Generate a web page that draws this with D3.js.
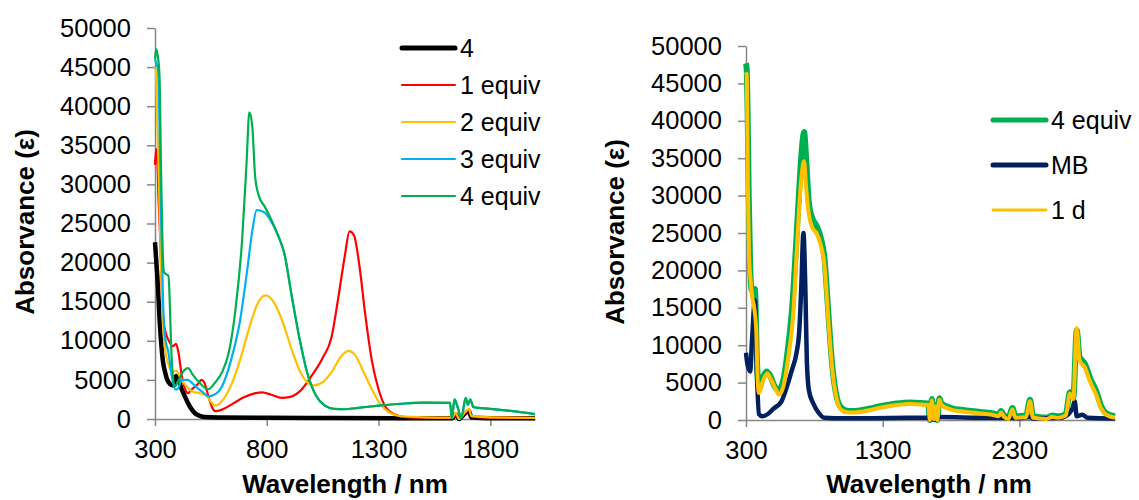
<!DOCTYPE html>
<html>
<head>
<meta charset="utf-8">
<script src="https://cdn.jsdelivr.net/npm/d3@7"></script>
<style>
  body { margin: 0; background: #fff; }
  svg { font-family: "Liberation Sans", Arial, sans-serif; }
  .axis path, .axis line { stroke: #868686; stroke-width: 1.5px; }
  .axis text { font-size: 25.5px; fill: #000; }
  .title { font-size: 26px; font-weight: bold; }
  .legend text { font-size: 25px; }
</style>
</head>
<body>
<svg id="chart" width="1139" height="500"></svg>
<script>
// left panel: titration spectra
var leftXTicks = [300, 800, 1300, 1800];
var rightXTicks = [300, 1300, 2300];
var yTicks = d3.range(0, 50001, 5000);

var s4 = [[300,22600],[305,20500],[313,17000],[320,13000],[327,10000],[335,7500],[345,6000],[355,5000],[367,4500],[381,4300],[394,5500],[405,5000],[417,4000],[432,3000],[448,2000],[465,1200],[480,700],[500,400],[525,250],[600,200],[800,150],[1100,130],[1400,110],[1630,100],[1645,600],[1660,0],[1690,800],[1705,1000],[1715,200],[1800,100],[2000,80]];
var s1eq = [[300,32500],[305,34500],[310,33500],[316,28000],[322,24000],[330,17000],[338,12500],[350,10800],[362,10000],[380,9300],[394,9600],[405,8500],[420,5500],[435,3800],[448,3300],[465,3800],[490,4400],[508,5000],[520,4700],[540,2800],[555,1500],[570,1000],[600,1200],[650,2000],[700,2800],[750,3300],[780,3400],[820,3100],[866,2700],[900,2800],[950,3600],[1000,5500],[1050,7800],[1090,10500],[1120,15500],[1150,21000],[1170,24000],[1190,23500],[1215,19500],[1240,13500],[1270,7500],[1300,3800],[1330,1600],[1370,600],[1420,250],[1500,180],[1630,150],[1645,700],[1660,0],[1690,900],[1705,1100],[1715,300],[1800,180],[2000,150]];
var s2eq = [[300,45000],[304,44500],[310,38000],[318,30000],[326,20000],[334,13000],[345,9000],[360,7000],[378,6000],[394,6200],[415,5200],[440,4200],[470,3500],[500,3300],[530,3000],[550,2200],[570,1700],[600,2300],[640,4300],[680,7500],[720,11500],[760,14800],[795,15800],[830,15000],[870,12500],[910,9000],[950,6000],[990,4500],[1010,4300],[1050,4700],[1090,6000],[1130,7900],[1165,8700],[1195,8200],[1230,6200],[1270,3800],[1310,1800],[1350,800],[1400,350],[1500,220],[1630,180],[1645,800],[1660,0],[1690,1000],[1705,1300],[1715,400],[1800,200],[2000,150]];
var s3eq = [[300,46000],[306,45500],[314,44500],[320,38000],[328,25000],[336,15000],[345,10500],[360,8500],[375,5500],[390,3800],[400,3800],[420,5000],[445,5000],[480,4200],[515,3400],[540,2900],[565,3100],[600,4200],[640,7500],[680,12500],[710,18500],[735,24000],[755,26700],[785,26500],[815,25500],[850,23500],[880,21000],[910,16000],[945,10500],[980,6000],[1020,3000],[1060,1700],[1100,1300],[1150,1250],[1200,1400],[1300,1700],[1400,1950],[1500,2100],[1620,2050],[1628,100],[1640,2500],[1655,1400],[1670,100],[1690,2700],[1700,1800],[1710,2500],[1725,1500],[1800,1300],[1900,1000],[2000,650]];
var s4eq = [[300,46000],[305,47300],[312,46500],[320,44000],[327,32000],[334,22000],[340,18800],[350,18500],[360,18300],[366,15000],[372,9500],[380,5500],[388,4100],[400,4600],[420,5800],[448,6500],[470,5600],[500,4600],[538,3800],[570,4700],[600,6000],[630,8500],[660,14000],[690,23000],[710,33000],[722,39200],[735,37500],[748,31000],[765,28500],[790,27200],[815,25800],[850,23500],[880,21000],[910,16000],[945,10500],[980,6000],[1020,3000],[1060,1700],[1100,1300],[1150,1250],[1200,1400],[1300,1700],[1400,1950],[1500,2100],[1620,2050],[1628,100],[1640,2500],[1655,1400],[1670,100],[1690,2700],[1700,1800],[1710,2500],[1725,1500],[1800,1300],[1900,1000],[2000,600]];

// right panel: stability
var r4eq = [[300,47700],[305,47000],[312,41000],[320,30000],[330,21000],[340,17500],[352,17200],[365,17500],[380,8000],[395,4200],[420,5500],[450,6500],[475,6000],[510,4500],[542,4000],[575,5500],[610,10000],[640,15500],[665,23000],[690,31000],[710,36500],[725,38500],[740,35000],[760,29000],[785,27000],[815,26000],[845,24500],[875,21500],[900,15000],[930,7500],[965,3000],[1000,1600],[1050,1200],[1100,1200],[1200,1500],[1300,1900],[1400,2200],[1500,2350],[1600,2250],[1635,2200],[1645,0],[1660,2800],[1675,200],[1690,2000],[1700,0],[1715,2900],[1730,2200],[1800,1600],[1900,1300],[2000,1100],[2100,900],[2150,700],[2165,1200],[2190,600],[2220,300],[2250,1600],[2270,500],[2350,600],[2378,2700],[2400,500],[2500,300],[2540,600],[2580,500],[2640,800],[2670,3700],[2695,3000],[2720,12000],[2740,8500],[2780,7500],[2820,5500],[2860,4000],[2900,1800],[2935,900],[3000,500]];
var rMB = [[300,9000],[310,7500],[330,6500],[345,11000],[365,16000],[380,6000],[395,800],[420,500],[460,800],[500,1500],[560,2500],[600,4500],[636,6700],[670,9000],[690,12000],[705,18000],[720,25000],[735,17000],[745,8000],[760,4000],[790,2300],[830,1000],[872,300],[950,250],[1200,250],[1500,300],[1640,300],[1650,0],[1665,500],[1680,0],[1720,400],[2000,300],[2300,250],[2378,400],[2400,200],[2600,300],[2660,800],[2690,1600],[2705,2500],[2720,500],[2760,700],[2800,300],[3000,200]];
var r1d = [[300,46500],[306,46000],[313,32000],[322,22000],[330,19500],[345,16500],[360,15000],[375,12000],[385,5500],[395,3600],[420,5000],[455,6200],[480,5500],[515,4200],[542,3400],[575,4600],[610,8500],[645,14000],[670,22000],[695,30000],[712,33500],[725,34600],[740,31000],[760,27500],[785,25700],[815,25000],[845,23500],[875,20500],[900,14000],[930,7000],[965,2700],[1000,1300],[1050,1000],[1100,1000],[1200,1300],[1300,1700],[1400,2000],[1500,2150],[1600,2050],[1635,2000],[1645,0],[1660,2600],[1675,100],[1690,1800],[1700,0],[1715,2700],[1730,2000],[1800,1400],[1900,1100],[2000,900],[2100,700],[2150,500],[2165,1000],[2190,400],[2220,150],[2250,1400],[2270,300],[2350,400],[2378,2500],[2400,300],[2500,150],[2540,400],[2580,300],[2640,600],[2670,3500],[2695,2800],[2720,12300],[2740,8000],[2780,7000],[2820,5000],[2860,3500],[2900,1500],[2935,700],[3000,300]];

var leftSeries = [
  {name: "4", data: s4, color: "#000000", width: 4.5, legendWidth: 5},
  {name: "1 equiv", data: s1eq, color: "#FF0000", width: 2.2, legendWidth: 2.2},
  {name: "2 equiv", data: s2eq, color: "#FFC000", width: 2.2, legendWidth: 2.2},
  {name: "3 equiv", data: s3eq, color: "#00B0F0", width: 2.2, legendWidth: 2.2},
  {name: "4 equiv", data: s4eq, color: "#00B050", width: 2.2, legendWidth: 2.2}
];
var rightSeries = [
  {name: "4 equiv", data: r4eq, color: "#00B050", width: 6, legendWidth: 5},
  {name: "MB", data: rMB, color: "#002060", width: 4.5, legendWidth: 5},
  {name: "1 d", data: r1d, color: "#FFC000", width: 4, legendWidth: 3}
];

var svg = d3.select("#chart");

function drawPanel(opt) {
  var x = d3.scaleLinear().domain(opt.xDomain).range(opt.xRange);
  var y = d3.scaleLinear().domain([0, 50000]).range(opt.yRange);
  var g = svg.append("g");

  var line = d3.line()
    .x(function(d) { return x(d[0]); })
    .y(function(d) { return y(d[1]); })
    .curve(d3.curveMonotoneX);

  g.append("g").attr("class", "axis")
    .attr("transform", "translate(" + opt.xRange[0] + ",0)")
    .call(d3.axisLeft(y).tickValues(yTicks).tickFormat(d3.format("d"))
      .tickSize(8).tickSizeOuter(0).tickPadding(16));
  g.append("g").attr("class", "axis")
    .attr("transform", "translate(0," + opt.yRange[0] + ")")
    .call(d3.axisBottom(x).tickValues(opt.xTicks).tickFormat(d3.format("d"))
      .tickSize(7).tickSizeOuter(0).tickPadding(14));
  g.selectAll(".axis .domain").attr("stroke", "#868686");

  opt.series.forEach(function(s) {
    g.append("path")
      .datum(s.data)
      .attr("fill", "none")
      .attr("stroke", s.color)
      .attr("stroke-width", s.width)
      .attr("stroke-linejoin", "round")
      .attr("d", line);
  });

  g.append("text").attr("class", "title")
    .attr("x", opt.xTitleX)
    .attr("y", 493)
    .attr("text-anchor", "middle")
    .text("Wavelength / nm");

  g.append("text").attr("class", "title")
    .attr("transform", "translate(" + opt.yTitleX + "," + opt.yTitleY + ")rotate(-90)")
    .attr("text-anchor", "middle")
    .text("Absorvance (ε)");

  var leg = g.append("g").attr("class", "legend");
  opt.series.forEach(function(s, i) {
    var ly = opt.legend.y + i * opt.legend.step;
    leg.append("line")
      .attr("x1", opt.legend.x).attr("x2", opt.legend.x + 53)
      .attr("y1", ly).attr("y2", ly)
      .attr("stroke", s.color)
      .attr("stroke-width", s.legendWidth)
      .attr("stroke-linecap", "round");
    leg.append("text")
      .attr("x", opt.legend.x + 58)
      .attr("y", ly)
      .attr("dy", "0.35em")
      .text(s.name);
  });
}

drawPanel({
  xDomain: [300, 2000], xRange: [155, 535], yRange: [419, 28],
  xTicks: leftXTicks, series: leftSeries,
  xTitleX: 345, yTitleX: 34, yTitleY: 222,
  legend: {x: 402, y: 48, step: 37}
});

drawPanel({
  xDomain: [300, 3000], xRange: [746, 1115], yRange: [420, 46],
  xTicks: rightXTicks, series: rightSeries,
  xTitleX: 929, yTitleX: 624, yTitleY: 232,
  legend: {x: 993, y: 120, step: 45}
});
</script>
</body>
</html>
